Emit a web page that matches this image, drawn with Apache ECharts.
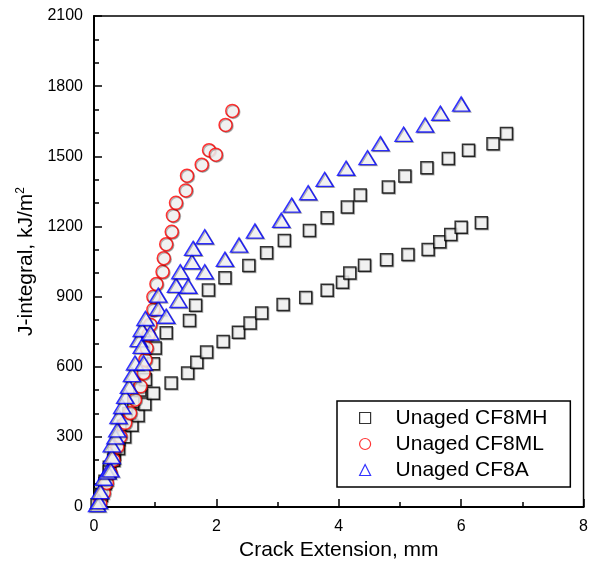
<!DOCTYPE html>
<html>
<head>
<meta charset="utf-8">
<script src="https://cdn.jsdelivr.net/npm/echarts@6/dist/echarts.min.js"></script>
<style>html,body{margin:0;padding:0;background:#fff}#c{width:591px;height:570px}</style>
</head>
<body>
<div id="c"></div>
<script>
// Crack extension (mm), J-integral (kJ/m^2)
const cf8mhA = [[0.10,55],[0.18,110],[0.25,170],[0.33,230],[0.40,290],[0.48,345],[0.57,400],[0.65,450],[0.75,500],[0.84,545],[0.97,613],[1.00,680],[1.18,745],[1.56,798],[1.66,863],[1.87,928],[2.14,980],[2.53,1033],[2.82,1087],[3.11,1140],[3.52,1183],[3.81,1237],[4.14,1283],[4.35,1334],[4.81,1369],[5.08,1416],[5.44,1451],[5.79,1490],[6.12,1526],[6.52,1554],[6.74,1597]];
const cf8mhB = [[0.05,10],[0.12,50],[0.18,100],[0.25,150],[0.32,200],[0.40,250],[0.50,300],[0.62,350],[0.72,391],[0.83,440],[0.97,487],[1.26,530],[1.53,573],[1.68,619],[1.84,663],[2.11,708],[2.36,747],[2.55,787],[2.74,830],[3.09,866],[3.46,896],[3.81,927],[4.06,961],[4.18,1001],[4.42,1034],[4.78,1058],[5.13,1080],[5.46,1101],[5.65,1134],[5.83,1166],[6.00,1197],[6.33,1216]];
const cf8ml = [[0.10,17],[0.16,60],[0.21,103],[0.27,146],[0.32,201],[0.38,258],[0.43,301],[0.51,360],[0.59,402],[0.67,459],[0.76,516],[0.81,573],[0.84,630],[0.86,680],[0.89,737],[0.92,780],[0.97,844],[0.97,899],[1.02,954],[1.12,1006],[1.14,1064],[1.18,1124],[1.27,1177],[1.29,1247],[1.34,1301],[1.50,1354],[1.52,1417],[1.76,1464],[1.88,1526],[1.99,1507],[2.15,1634],[2.26,1694]];
const cf8a = [[0.05,10],[0.08,23],[0.10,66],[0.16,123],[0.22,150],[0.27,159],[0.29,216],[0.29,266],[0.35,300],[0.38,330],[0.40,387],[0.46,430],[0.51,473],[0.57,516],[0.62,566],[0.67,616],[0.81,616],[0.73,716],[0.78,687],[0.78,759],[0.92,744],[0.84,806],[1.05,849],[1.18,816],[1.05,906],[1.38,883],[1.34,948],[1.54,944],[1.41,1006],[1.81,1006],[1.60,1049],[1.62,1106],[1.81,1156],[2.14,1059],[2.37,1120],[2.63,1180],[3.06,1226],[3.23,1291],[3.50,1344],[3.77,1401],[4.12,1449],[4.47,1494],[4.68,1554],[5.06,1594],[5.41,1634],[5.66,1684],[6.00,1723]];
const seriesNames = ['Unaged CF8MH','Unaged CF8ML','Unaged CF8A'];
const xTitle = 'Crack Extension, mm';
const xMin = 0, xMax = 8, xStep = 2;
const yMin = 0, yMax = 2100, yStep = 300;

const FONT = 'Liberation Sans, Arial, sans-serif';
const shadow = {shadowColor:'rgba(0,0,0,0.35)', shadowOffsetX:1, shadowOffsetY:1, shadowBlur:0};
const chart = echarts.init(document.getElementById('c'), null, {renderer:'canvas'});
chart.setOption({
  animation:false,
  backgroundColor:'#fff',
  grid:{left:94, right:6, top:16, bottom:63, show:true, borderColor:'#000', borderWidth:1.5, backgroundColor:'transparent'},
  xAxis:{type:'value', min:xMin, max:xMax, interval:xStep,
    name:xTitle, nameLocation:'middle', nameGap:33,
    nameTextStyle:{fontSize:21, color:'#000', fontFamily:FONT},
    axisLine:{show:true, onZero:false, lineStyle:{color:'#000', width:2}},
    axisTick:{show:true, inside:true, length:8, lineStyle:{color:'#000', width:1.5}},
    minorTick:{show:true, splitNumber:2, length:5, lineStyle:{color:'#000', width:1.5}},
    splitLine:{show:false},
    axisLabel:{fontSize:16, color:'#000', margin:12, fontFamily:FONT, formatter:v=>String(v)}
  },
  yAxis:{type:'value', min:yMin, max:yMax, interval:yStep,
    name:'J-integral, kJ/m{sup|2}', nameLocation:'middle', nameGap:56, nameRotate:90,
    nameTextStyle:{fontSize:21, color:'#000', fontFamily:FONT,
      rich:{sup:{fontSize:12, verticalAlign:'top', color:'#000', fontFamily:FONT, padding:[0,0,10,0]}}},
    axisLine:{show:true, onZero:false, lineStyle:{color:'#000', width:2}},
    axisTick:{show:true, inside:true, length:8, lineStyle:{color:'#000', width:1.5}},
    minorTick:{show:true, splitNumber:3, length:5, lineStyle:{color:'#000', width:1.5}},
    splitLine:{show:false},
    axisLabel:{fontSize:16, color:'#000', margin:11, fontFamily:FONT, formatter:v=>String(v)}
  },
  legend:{show:true, orient:'vertical', left:337, top:401,
    padding:[4,23,4,22], itemGap:0, itemWidth:11, itemHeight:11,
    borderColor:'#000', borderWidth:1.5, backgroundColor:'#fff',
    itemStyle:{borderWidth:1.2, shadowColor:'transparent'},
    textStyle:{fontSize:21, color:'#000', fontFamily:FONT, lineHeight:26, padding:[0,0,0,20]},
    data:seriesNames
  },
  series:[
    {name:seriesNames[0], type:'scatter', data:cf8mhA, symbol:'rect', symbolSize:12,
      itemStyle:Object.assign({color:'#fff', borderColor:'#000', borderWidth:1.5}, shadow), z:2},
    {name:seriesNames[0], type:'scatter', data:cf8mhB, symbol:'rect', symbolSize:12,
      itemStyle:Object.assign({color:'#fff', borderColor:'#000', borderWidth:1.5}, shadow), z:2},
    {name:seriesNames[1], type:'scatter', data:cf8ml, symbol:'circle', symbolSize:13,
      itemStyle:Object.assign({color:'#fff', borderColor:'#ff0000', borderWidth:1.5}, shadow), z:3},
    {name:seriesNames[2], type:'scatter', data:cf8a, symbol:'triangle', symbolSize:[17,14],
      itemStyle:Object.assign({color:'#fff', borderColor:'#0000ff', borderWidth:1.5}, shadow), z:4}
  ]
});
</script>
</body>
</html>
